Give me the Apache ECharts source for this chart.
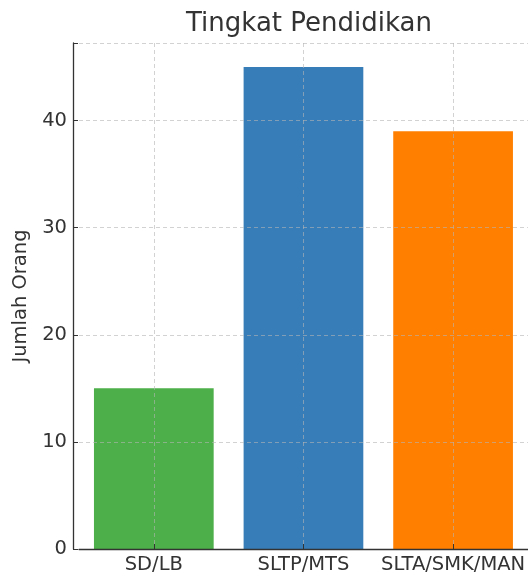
<!DOCTYPE html>
<html><head><meta charset="utf-8">
<script src="https://cdn.jsdelivr.net/npm/echarts@6/dist/echarts.min.js"></script>
<style>html,body{margin:0;padding:0;background:#fff}#c{width:528px;height:579px}</style>
</head><body><div id="c"></div>
<script>
const categories = ['SD/LB', 'SLTP/MTS', 'SLTA/SMK/MAN'];
const values = [15, 45, 39];
const colors = ['#4daf4a', '#377eb8', '#ff7f00'];
const yTicks = [0, 10, 20, 30, 40];

const chart = echarts.init(document.getElementById('c'));
const font = 'DejaVu Sans';
chart.setOption({
  animation: false,
  title: {
    text: 'Tingkat Pendidikan', left: 304, top: 6, textAlign: 'center',
    textStyle: {fontFamily: font, fontSize: 26, fontWeight: 'normal', color: '#333'}
  },
  grid: {left: 79, right: -1, top: 43, bottom: 30, containLabel: false},
  xAxis: {
    type: 'category', data: categories, z: 5,
    axisLine: {lineStyle: {color: '#333', width: 1.3}},
    axisTick: {show: true, inside: true, alignWithLabel: true, length: 5, lineStyle: {color: '#333'}},
    axisLabel: {fontFamily: font, fontSize: 19.5, color: '#333', margin: 6, interval: 0},
    splitLine: {show: true, alignWithLabel: true, lineStyle: {type: [4, 3], color: 'rgba(180,180,180,0.6)', width: 1}}
  },
  yAxis: {
    type: 'value', min: 0, max: 47.25, interval: 10, offset: 6, z: 5,
    name: 'Jumlah Orang', nameLocation: 'middle', nameGap: 38,
    nameTextStyle: {fontFamily: font, fontSize: 19.5, color: '#333'},
    axisLine: {show: true, lineStyle: {color: '#333', width: 1.3}},
    axisTick: {show: true, inside: true, length: 5, lineStyle: {color: '#333'}},
    axisLabel: {fontFamily: font, fontSize: 19.5, color: '#333', margin: 6,
      formatter: v => yTicks.includes(v) ? String(v) : ''},
    splitLine: {show: true, lineStyle: {type: [4, 3], color: 'rgba(180,180,180,0.6)', width: 1}}
  },
  series: [{
    type: 'bar', barWidth: '80%',
    data: values.map((v, i) => ({value: v, itemStyle: {color: colors[i]}}))
  }]
});
</script></body></html>
